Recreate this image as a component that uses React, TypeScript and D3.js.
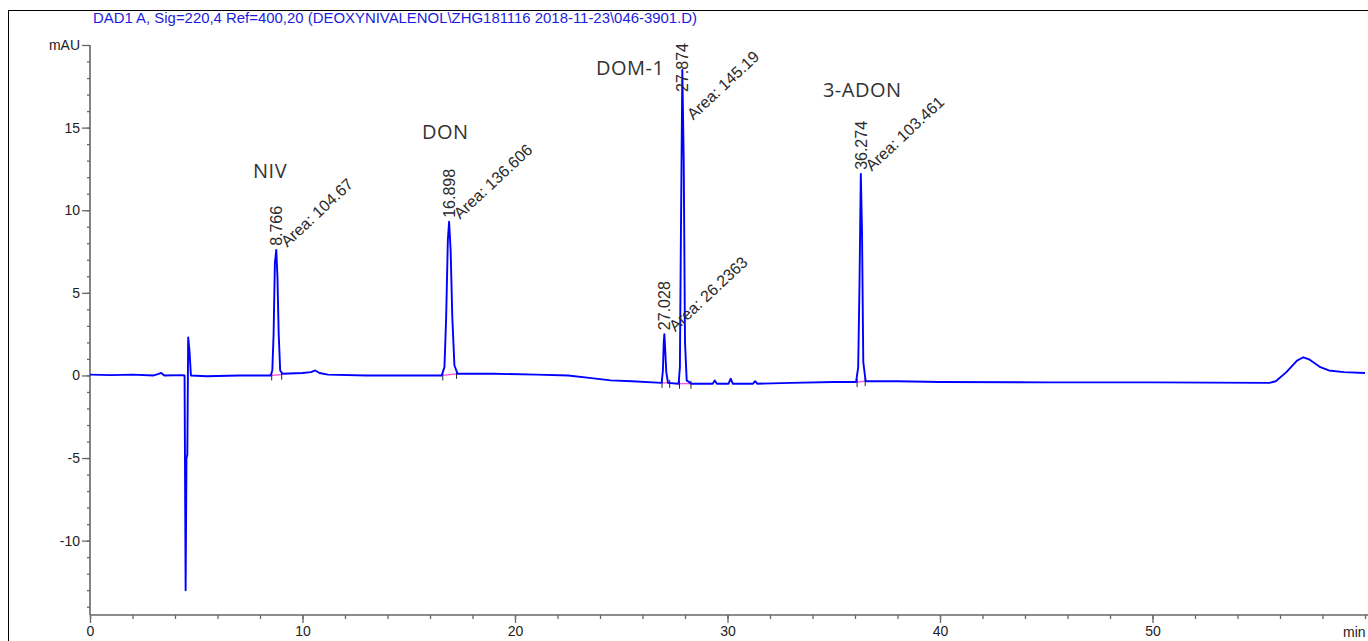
import React, { useEffect, useRef } from 'react';
import * as d3 from 'd3';

const title = "DAD1 A, Sig=220,4 Ref=400,20 (DEOXYNIVALENOL\\ZHG181116 2018-11-23\\046-3901.D)";

// signal: [time (min), absorbance (mAU)]
const trace: [number, number][] = [
  [0.0, 0.05], [1.0, 0.02], [2.0, 0.05], [3.0, 0.0], [3.2, 0.08], [3.35, 0.15], [3.5, 0.0],
  [4.3, 0.02], [4.45, 0.0], [4.5, -13.0], [4.54, -5.0], [4.58, -4.8], [4.62, 2.3], [4.68, 1.5],
  [4.75, 0.0], [5.5, -0.05], [7.0, 0.0], [8.5, 0.0],
  [8.58, 0.3], [8.64, 2.5], [8.7, 6.8], [8.766, 7.6], [8.82, 6.0], [8.88, 2.5], [8.95, 0.3],
  [9.05, 0.1], [10.0, 0.15], [10.4, 0.2], [10.6, 0.3], [10.8, 0.15], [11.2, 0.05],
  [13.0, 0.0], [15.0, 0.0], [16.55, 0.0],
  [16.68, 0.5], [16.76, 3.5], [16.84, 8.2], [16.898, 9.3], [16.97, 7.6], [17.05, 3.5], [17.15, 0.6],
  [17.3, 0.1], [19.0, 0.1], [21.0, 0.05], [22.5, 0.0], [23.5, -0.15], [24.5, -0.3], [25.5, -0.35],
  [26.9, -0.45], [26.96, 0.3], [27.0, 2.0], [27.028, 2.5], [27.07, 1.5], [27.12, 0.2], [27.2, -0.45],
  [27.7, -0.5], [27.76, 0.5], [27.8, 7.3], [27.874, 18.5], [27.94, 13.0], [28.0, 2.0], [28.08, -0.3],
  [28.3, -0.5], [29.3, -0.5], [29.4, -0.3], [29.5, -0.5], [30.05, -0.5], [30.15, -0.2], [30.25, -0.5],
  [31.2, -0.5], [31.3, -0.35], [31.4, -0.5], [33.0, -0.45], [35.0, -0.4], [36.05, -0.4],
  [36.15, 0.5], [36.21, 5.4], [36.274, 12.2], [36.33, 8.7], [36.39, 0.8], [36.5, -0.35],
  [38.0, -0.35], [40.0, -0.4], [45.0, -0.42], [50.0, -0.42], [55.5, -0.45], [55.8, -0.35],
  [56.3, 0.2], [56.8, 0.9], [57.1, 1.1], [57.4, 0.95], [57.9, 0.5], [58.3, 0.3], [59.0, 0.2], [60.0, 0.15]
];

// integrated peaks
const peakTimes = [8.766, 16.898, 27.028, 27.874, 36.274];
const peakHeights = [7.6, 9.3, 2.5, 18.5, 12.2];
const peakAreas = ["104.67", "136.606", "26.2363", "145.19", "103.461"];
const peakStarts = [8.55, 16.6, 26.92, 27.74, 36.1];
const peakEnds = [9.02, 17.25, 27.28, 28.28, 36.48];
const startLevels = [0.0, 0.0, -0.45, -0.5, -0.4];
const endLevels = [0.05, 0.1, -0.45, -0.5, -0.35];

// compound names and where they were typed on the chart (min, mAU)
const compounds = ["NIV", "DON", "DOM-1", "3-ADON"];
const compoundAt = [[7.67, 11.95], [15.62, 14.3], [23.81, 18.18], [34.49, 16.85]];

const yMajor = [-10, -5, 0, 5, 10, 15, 20];
const xMajor = [0, 10, 20, 30, 40, 50];

export default function App() {
  const ref = useRef<SVGSVGElement>(null);

  useEffect(() => {
    const W = 1368, H = 641;
    const svg = d3.select(ref.current);
    svg.selectAll("*").remove();

    const x = d3.scaleLinear().domain([0, 60]).range([90, 1365]);
    const y = d3.scaleLinear().domain([-14.5, 20]).range([615, 45]);
    const font = "'Liberation Sans', Arial, sans-serif";

    // outer frame
    svg.append("rect")
      .attr("x", 8.5).attr("y", 10.5)
      .attr("width", W + 20).attr("height", H + 20)
      .attr("fill", "none").attr("stroke", "#000").attr("stroke-width", 1);

    svg.append("text")
      .attr("x", 93).attr("y", 23)
      .attr("font-family", font).attr("font-size", 15)
      .attr("fill", "#1c1cdc")
      .attr("textLength", 604).attr("lengthAdjust", "spacingAndGlyphs")
      .text(title);

    // y axis
    const yMinor = svg.append("g").attr("transform", "translate(90,0)")
      .call(d3.axisLeft(y).tickValues(d3.range(-14, 20)).tickSize(3).tickFormat(() => ""));
    const yAx = svg.append("g").attr("transform", "translate(90,0)")
      .call(d3.axisLeft(y).tickValues(yMajor).tickSize(8).tickPadding(2)
        .tickFormat((d: any) => (d === 20 ? "mAU" : String(d))));

    // x axis
    const xMinor = svg.append("g").attr("transform", "translate(0,615)")
      .call(d3.axisBottom(x).tickValues(d3.range(0, 61, 2)).tickSize(4).tickFormat(() => ""));
    const xAx = svg.append("g").attr("transform", "translate(0,615)")
      .call(d3.axisBottom(x).tickValues(xMajor).tickSize(8).tickPadding(3));

    [yMinor, yAx, xMinor, xAx].forEach(g => {
      g.select(".domain").remove();
      g.selectAll("line").attr("stroke", "#666").attr("stroke-width", 1.3);
      g.selectAll("text").attr("font-family", font).attr("font-size", 14).attr("fill", "#222");
    });
    svg.append("line").attr("x1", 90).attr("x2", W).attr("y1", 615).attr("y2", 615)
      .attr("stroke", "#666").attr("stroke-width", 1.6);
    svg.append("line").attr("x1", 90).attr("x2", 90).attr("y1", y(20)).attr("y2", 615)
      .attr("stroke", "#666").attr("stroke-width", 1.6);

    svg.append("text").attr("x", 1343).attr("y", 637)
      .attr("font-family", font).attr("font-size", 14).attr("fill", "#222").text("min");

    // integration baselines
    peakTimes.forEach((t, i) => {
      svg.append("line")
        .attr("x1", x(peakStarts[i])).attr("y1", y(startLevels[i]))
        .attr("x2", x(peakEnds[i])).attr("y2", y(endLevels[i]))
        .attr("stroke", "#ff44dd").attr("stroke-width", 1.2);
      [[peakStarts[i], startLevels[i]], [peakEnds[i], endLevels[i]]].forEach(([tt, v]) => {
        svg.append("line")
          .attr("x1", x(tt)).attr("x2", x(tt))
          .attr("y1", y(v) - 3).attr("y2", y(v) + 5)
          .attr("stroke", "#222").attr("stroke-width", 1);
      });
    });

    // signal
    const line = d3.line<[number, number]>().x(d => x(d[0])).y(d => y(d[1]));
    svg.append("path").datum(trace)
      .attr("d", line)
      .attr("fill", "none").attr("stroke", "#0000ff").attr("stroke-width", 1.9)
      .attr("stroke-linejoin", "round");

    // peak annotations
    const ang = 43;
    peakTimes.forEach((t, i) => {
      const px = x(t), py = y(peakHeights[i]);
      const rt = svg.append("text")
        .attr("font-family", font).attr("font-size", 16).attr("fill", "#2a2a2a")
        .text(t.toFixed(3));
      const rtLen = (rt.node() as SVGTextElement).getComputedTextLength();
      const rtBottom = Math.max(py - 4, 43 + rtLen);
      rt.attr("transform", `translate(${px + 6},${rtBottom}) rotate(-90)`);

      const ar = svg.append("text")
        .attr("font-family", font).attr("font-size", 16).attr("fill", "#2a2a2a")
        .text("Area: " + peakAreas[i]);
      const arLen = (ar.node() as SVGTextElement).getComputedTextLength();
      const arY = Math.max(py - 2, 58 + arLen * Math.sin(ang * Math.PI / 180));
      ar.attr("transform", `translate(${px + 11},${arY}) rotate(${-ang})`);
    });

    compounds.forEach((c, i) => {
      svg.append("text")
        .attr("x", x(compoundAt[i][0])).attr("y", y(compoundAt[i][1]))
        .attr("font-family", "'Open Sans', sans-serif").attr("font-size", 20)
        .attr("letter-spacing", 0.5).attr("fill", "#333")
        .text(c);
    });
  }, []);

  return (
    <svg ref={ref} width={1368} height={641}
      style={{ position: "absolute", left: 0, top: 0, background: "#fff" }} />
  );
}
